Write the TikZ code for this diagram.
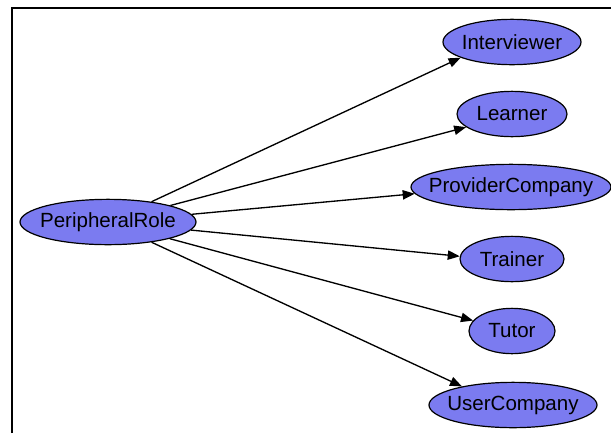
\documentclass[tikz,border=0pt]{standalone}
\usepackage{fontspec}
\setmainfont{Liberation Sans}
\usepackage{tikz}
\usetikzlibrary{shapes.geometric,arrows.meta,positioning}
\definecolor{roleBlue}{RGB}{123, 123, 240}
\newcommand{\rolename}[1]{\makebox[0pt][c]{#1}}

\begin{document}
\begin{tikzpicture}[
                x=0.75pt,y=-0.75pt,
                role/.style={ellipse,draw=black,line width=0.9pt,fill=roleBlue,
                            minimum height=34pt,inner sep=0pt,
                            font=\fontsize{15.4}{18}\selectfont},
                link/.style={line width=1pt,-{Triangle[length=9pt,width=7pt]}}
            ]
                \useasboundingbox (0,0) rectangle (611,433);
                \draw[line width=1.6pt] (12,433) -- (12,8) -- (611,8);

                \node[role,minimum width=132pt] (peripheral) at (108,222) {\rolename{PeripheralRole}};
                \node[role,minimum width=103.5pt] (interviewer) at (512,42) {\rolename{Interviewer}};
                \node[role,minimum width=82.5pt] (learner) at (512,114) {\rolename{Learner}};
                \node[role,minimum width=150pt] (provider) at (511,187) {\rolename{ProviderCompany}};
                \node[role,minimum width=78pt] (trainer) at (512,259) {\rolename{Trainer}};
                \node[role,minimum width=64.5pt] (tutor) at (512,331) {\rolename{Tutor}};
                \node[role,minimum width=126pt] (usercompany) at (513,405) {\rolename{UserCompany}};

                \foreach \target/\side in {interviewer/197,learner/196,provider/184,trainer/177,tutor/165,usercompany/160}
                    \draw[link] (peripheral) -- (\target.\side);
            \end{tikzpicture}
\end{document}
